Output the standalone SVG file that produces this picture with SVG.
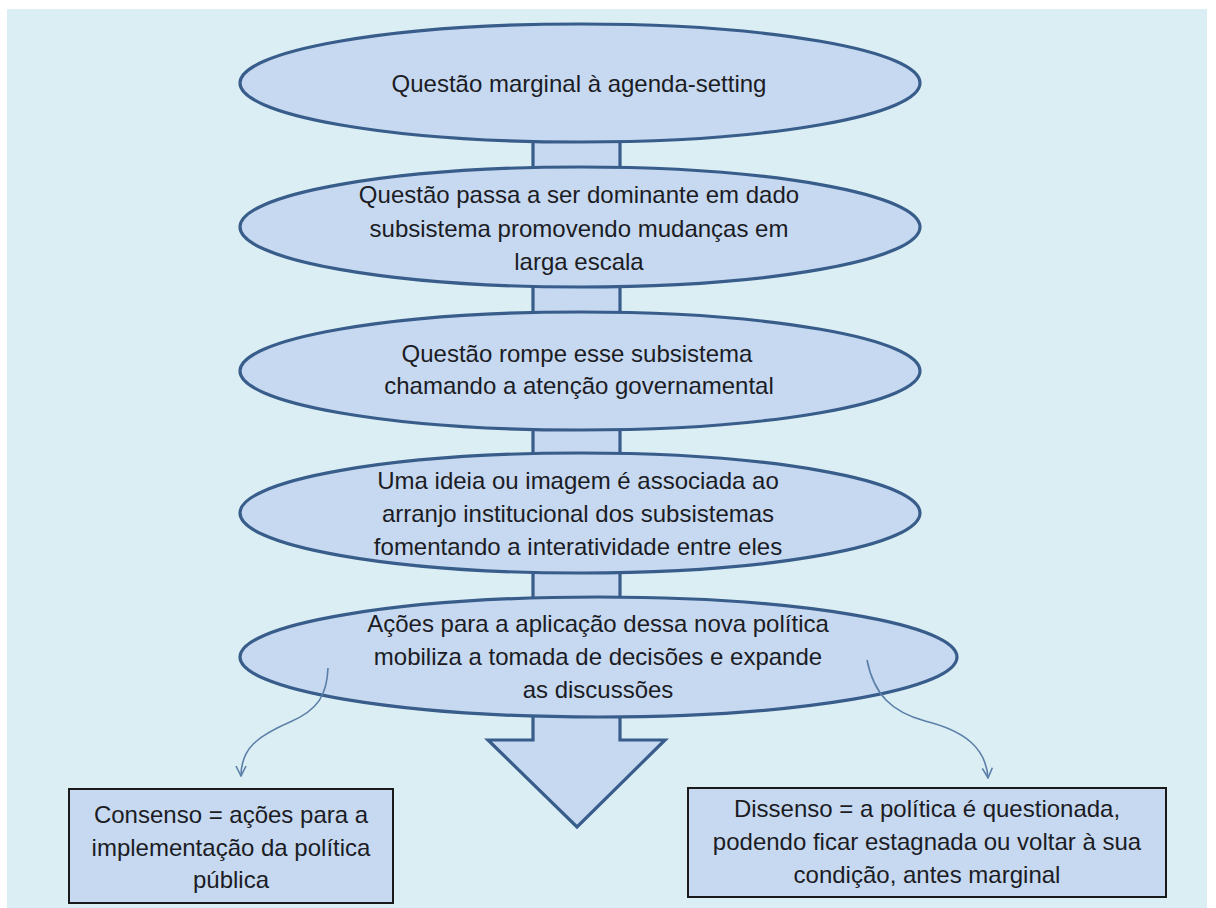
<svg xmlns="http://www.w3.org/2000/svg" width="1216" height="908" viewBox="0 0 1216 908">
<style>
.node{fill:#c6d9f1;stroke:#385d8a;stroke-width:3.2}
.box{fill:#c6d9f1;stroke:#1a1a1a;stroke-width:2}
.conn{fill:#c6d9f1;stroke:#385d8a;stroke-width:3.2}
.curve{fill:none;stroke:#5b7fa8;stroke-width:1.6}
text{font-family:"Liberation Sans",Arial,sans-serif;font-size:24px;fill:#1c1c24;text-anchor:middle}
</style>
<defs>
<marker id="open" viewBox="0 0 12 12" refX="11" refY="6" markerWidth="12" markerHeight="12" markerUnits="userSpaceOnUse" orient="auto">
<path d="M1,1 L11,6 L1,11" fill="none" stroke="#5b7fa8" stroke-width="1.6"/>
</marker>
</defs>
<rect x="0" y="0" width="1216" height="908" fill="#ffffff"/>
<rect x="7" y="9" width="1200" height="899" fill="#dbeef4"/>
<g id="connectors">
<rect class="conn" x="533" y="125" width="87" height="55"/>
<rect class="conn" x="533" y="275" width="87" height="50"/>
<rect class="conn" x="533" y="418" width="87" height="48"/>
<rect class="conn" x="533" y="560" width="87" height="50"/>
<polygon class="conn" points="533,700 620,700 620,740 665,740 577,827 488,740 533,740"/>
</g>
<g id="n1">
<ellipse class="node" cx="580" cy="83" rx="340" ry="59"/>
<text x="579" y="92">Questão marginal à agenda-setting</text>
</g>
<g id="n2">
<ellipse class="node" cx="580" cy="227" rx="340" ry="60"/>
<text x="579" y="203">Questão passa a ser dominante em dado</text>
<text x="579" y="237">subsistema promovendo mudanças em</text>
<text x="579" y="270">larga escala</text>
</g>
<g id="n3">
<ellipse class="node" cx="580" cy="371" rx="340" ry="59"/>
<text x="577" y="362">Questão rompe esse subsistema</text>
<text x="579" y="394">chamando a atenção governamental</text>
</g>
<g id="n4">
<ellipse class="node" cx="580" cy="513" rx="340" ry="60"/>
<text x="578" y="489">Uma ideia ou imagem é associada ao</text>
<text x="578" y="522">arranjo institucional dos subsistemas</text>
<text x="578" y="555">fomentando a interatividade entre eles</text>
</g>
<g id="n5">
<ellipse class="node" cx="598.5" cy="657" rx="358.5" ry="60"/>
<text x="598" y="632">Ações para a aplicação dessa nova política</text>
<text x="598" y="665">mobiliza a tomada de decisões e expande</text>
<text x="598" y="698">as discussões</text>
</g>
<g id="arrows">
<path class="curve" d="M328,668 C327,695 318,710 290,722 C258,736 241,748 241,776" marker-end="url(#open)"/>
<path class="curve" d="M867,660 C874,695 892,712 925,721 C965,731 986,748 988,778" marker-end="url(#open)"/>
</g>
<g id="consenso">
<rect class="box" x="69" y="789" width="324" height="114"/>
<text x="231" y="823">Consenso = ações para a</text>
<text x="231" y="856">implementação da política</text>
<text x="231" y="888">pública</text>
</g>
<g id="dissenso">
<rect class="box" x="688" y="788" width="478" height="109"/>
<text x="927" y="817">Dissenso = a política é questionada,</text>
<text x="927" y="850">podendo ficar estagnada ou voltar à sua</text>
<text x="927" y="883">condição, antes marginal</text>
</g>
</svg>
